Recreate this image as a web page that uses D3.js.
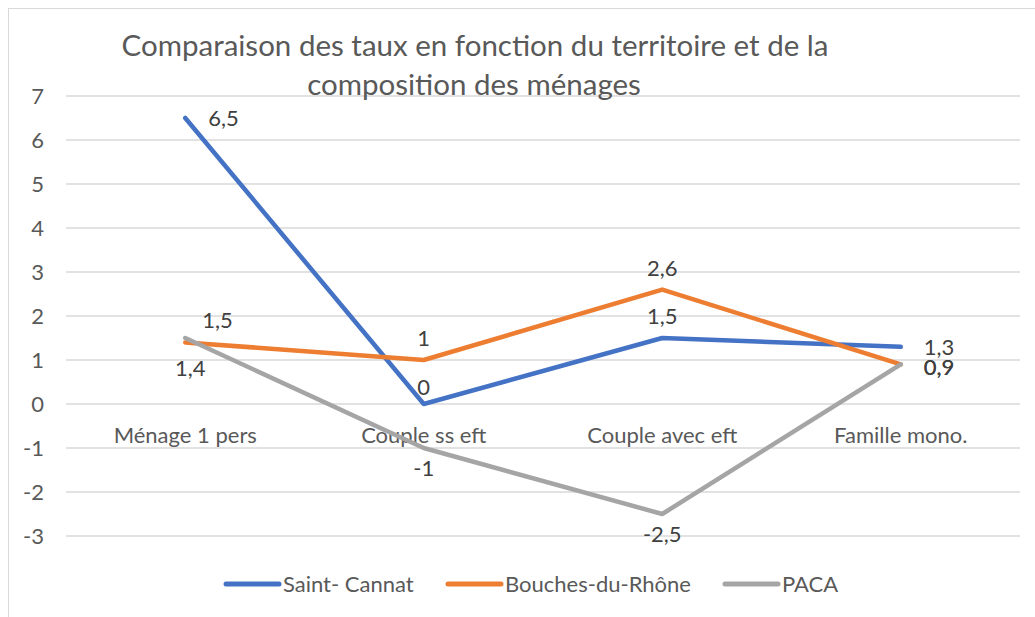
<!DOCTYPE html>
<html>
<head>
<meta charset="utf-8">
<script src="https://cdn.jsdelivr.net/npm/d3@7"></script>
<style>
  body { margin: 0; background: #fff; }
  svg { font-family: Lato, "Open Sans", sans-serif; }
</style>
</head>
<body>
<div id="chart"></div>
<script>
// Data
const categories = ["Ménage 1 pers", "Couple ss eft", "Couple avec eft", "Famille mono."];
const seriesNames = ["Saint- Cannat", "Bouches-du-Rhône", "PACA"];
const saintCannat = [6.5, 0, 1.5, 1.3];
const bouches = [1.4, 1, 2.6, 0.9];
const paca = [1.5, -1, -2.5, 0.9];
const yTicks = [-3, -2, -1, 0, 1, 2, 3, 4, 5, 6, 7];

const colors = ["#4472C4", "#ED7D31", "#A5A5A5"];
// where each data label sits relative to its point
const labelPlaces = [
    ["right", "aboveLow", "above", "right"],
    ["belowRight", "above", "above", "right2"],
    ["aboveRight", "below", "below", "right2"]
];

const width = 1035, height = 617;
const svg = d3.select("#chart").append("svg")
    .attr("width", width)
    .attr("height", height);

// chart area border
svg.append("rect")
    .attr("x", 8.5).attr("y", 8.5)
    .attr("width", 1040).attr("height", 640)
    .attr("fill", "none")
    .attr("stroke", "#d9d9d9");

const x = d3.scaleBand().domain(categories).range([66, 1020]);
const y = d3.scaleLinear().domain([-3, 7]).range([536, 96]);

// gridlines
svg.append("g")
    .selectAll("line")
    .data(yTicks)
    .join("line")
    .attr("x1", 66).attr("x2", 1020)
    .attr("y1", d => y(d)).attr("y2", d => y(d))
    .attr("stroke", "#d9d9d9")
    .attr("stroke-width", 1.3);

// y axis labels
const yAxis = d3.axisLeft(y).tickValues(yTicks).tickSize(0).tickPadding(0)
    .tickFormat(d => String(d));
svg.append("g")
    .attr("transform", "translate(44,0)")
    .call(yAxis)
    .call(g => g.select(".domain").remove())
    .selectAll("text")
    .attr("font-family", "Lato, sans-serif")
    .attr("font-size", 22)
    .attr("fill", "#595959");

// category labels, sitting just below the zero line
svg.append("g")
    .selectAll("text")
    .data(categories)
    .join("text")
    .attr("x", d => x(d) + x.bandwidth() / 2)
    .attr("y", y(0) + 39)
    .attr("text-anchor", "middle")
    .attr("font-size", 22)
    .attr("fill", "#595959")
    .text(d => d);

// title
svg.append("text")
    .attr("x", 475).attr("y", 56)
    .attr("text-anchor", "middle")
    .attr("font-size", 29.5)
    .attr("fill", "#595959")
    .text("Comparaison des taux en fonction du territoire et de la");
svg.append("text")
    .attr("x", 474).attr("y", 95)
    .attr("text-anchor", "middle")
    .attr("font-size", 29.5)
    .attr("fill", "#595959")
    .text("composition des ménages");

// lines
const allSeries = [saintCannat, bouches, paca];
const line = d3.line()
    .x((d, i) => x(categories[i]) + x.bandwidth() / 2)
    .y(d => y(d));

svg.append("g")
    .selectAll("path")
    .data(allSeries)
    .join("path")
    .attr("d", d => line(d))
    .attr("fill", "none")
    .attr("stroke", (d, i) => colors[i])
    .attr("stroke-width", 4.5)
    .attr("stroke-linecap", "round")
    .attr("stroke-linejoin", "round");

// data labels
const fmt = v => String(v).replace(".", ",");
const offsets = {
    right: [23, 8, "start"],
    right2: [23, 11, "start"],
    above: [0, -14, "middle"],
    aboveLow: [0, -9, "middle"],
    below: [0, 28, "middle"],
    belowRight: [5, 34, "middle"],
    aboveRight: [17, -10, "start"]
};
allSeries.forEach((vals, s) => {
    svg.append("g")
        .selectAll("text")
        .data(vals)
        .join("text")
        .attr("x", (d, i) => x(categories[i]) + x.bandwidth() / 2 + offsets[labelPlaces[s][i]][0])
        .attr("y", (d, i) => y(d) + offsets[labelPlaces[s][i]][1])
        .attr("text-anchor", (d, i) => offsets[labelPlaces[s][i]][2])
        .attr("font-size", 22)
        .attr("fill", "#404040")
        .text(d => fmt(d));
});

// legend
const legendX = [226, 448, 725];
const legend = svg.append("g")
    .selectAll("g")
    .data(seriesNames)
    .join("g")
    .attr("transform", (d, i) => `translate(${legendX[i]},584)`);
legend.append("line")
    .attr("x1", 0).attr("x2", 53)
    .attr("stroke", (d, i) => colors[i])
    .attr("stroke-width", 5)
    .attr("stroke-linecap", "round");
legend.append("text")
    .attr("x", 57).attr("y", 8)
    .attr("font-size", 22)
    .attr("fill", "#595959")
    .text(d => d);
</script>
</body>
</html>
